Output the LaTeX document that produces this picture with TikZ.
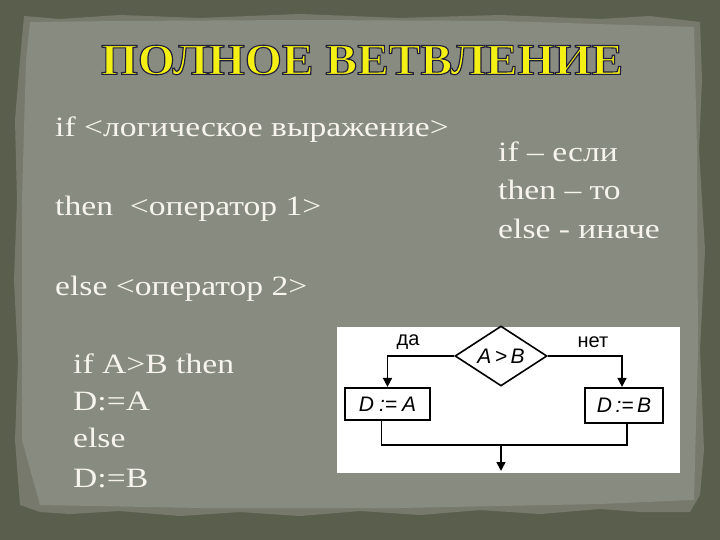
\documentclass[tikz,border=0pt]{standalone}
\usepackage{fontspec}
\usetikzlibrary{shapes.geometric,arrows.meta,calc}
\newfontfamily\bodyserif{Liberation Serif}
\newfontfamily\titleserif{Liberation Serif}
\newfontfamily\flowsans{Liberation Sans}
\definecolor{outerbg}{RGB}{90,95,77}
\definecolor{paper}{RGB}{136,139,127}
\definecolor{paperedge}{RGB}{118,121,108}
\definecolor{titleyellow}{RGB}{245,240,20}
\definecolor{textwhite}{RGB}{246,244,236}
\newcommand{\outlinedtitle}[1]{\color{titleyellow}\special{pdf:literal direct 0.12 0.12 0.24 RG 2 Tr 1.1 w}#1\special{pdf:literal direct 0 Tr}}
\tikzset{
  bodytxt/.style={font=\bodyserif\fontsize{28}{32}\selectfont, text=textwhite, anchor=base west, inner sep=0pt, xscale=1.2},
  titletxt/.style={font=\titleserif\bfseries\fontsize{44}{50}\selectfont, inner sep=0pt, xscale=1.08},
  flowtxt/.style={font=\flowsans\itshape\fontsize{21}{24}\selectfont},
  lbltxt/.style={font=\flowsans\fontsize{20}{22}\selectfont, inner sep=0pt},
  decision/.style={diamond, draw=black, line width=1.6pt, fill=white, inner sep=0pt, aspect=1.53, minimum width=92pt, minimum height=60pt, flowtxt},
  actbox/.style={rectangle, draw=black, line width=2.2pt, fill=white, inner sep=0pt, flowtxt},
  conn/.style={draw=black, line width=1.6pt},
  arrowconn/.style={conn, -{Triangle[length=9pt,width=9pt]}}
}
\begin{document}
\begin{tikzpicture}[x=1pt,y=-1pt]
\useasboundingbox (0,0) rectangle (720,540);
\fill[outerbg] (0,0) rectangle (720,540);
% torn paper
\path[fill=paperedge] (24,16) -- (60,19) -- (120,15) -- (200,18) -- (300,14) -- (400,18) -- (500,15) -- (600,19) -- (650,16) -- (700,22)
  -- (702,80) -- (699,150) -- (705,250) -- (700,350) -- (704,450) -- (700,495) -- (690,512)
  -- (640,512) -- (600,509) -- (540,514) -- (480,510) -- (420,515) -- (360,511) -- (300,516) -- (240,512) -- (180,516) -- (120,511) -- (70,514) -- (40,512) -- (20,505)
  -- (15,440) -- (18,360) -- (14,280) -- (17,200) -- (15,120) -- (20,60) -- cycle;
\path[fill=paper] (30,22) -- (120,21) -- (300,20) -- (500,21) -- (694,27)
  -- (697,150) -- (698,350) -- (694,500) -- (600,504) -- (400,508) -- (200,508) -- (40,505)
  -- (22,440) -- (22,200) -- (26,60) -- cycle;
% title
\node[titletxt] (title) at (362,60) {\outlinedtitle{ПОЛНОЕ ВЕТВЛЕНИЕ}};
% left text
\node[bodytxt] (l1) at (55,137) {if <логическое выражение>};
\node[bodytxt] (l2) at (55,215) {then \ <оператор 1>};
\node[bodytxt] (l3) at (55,295) {else <оператор 2>};
% right text
\node[bodytxt] (r1) at (498,162) {if – если};
\node[bodytxt] (r2) at (498,200) {then – то};
\node[bodytxt] (r3) at (498,238) {else - иначе};
% code
\node[bodytxt] (c1) at (73,373) {if A>B then};
\node[bodytxt] (c2) at (73,410) {D:=A};
\node[bodytxt] (c3) at (73,447) {else};
\node[bodytxt] (c4) at (73,487) {D:=B};
% flowchart
\fill[white] (337,327) rectangle (680,473);
\node[decision] (cond) at (501,356) {A\,>\,B};
\node[actbox, minimum width=85pt, minimum height=32pt] (da) at (387.5,404) {D\hspace{5pt}:=\hspace{5pt}A};
\node[actbox, minimum width=78pt, minimum height=35pt] (db) at (624,405.5) {D\,:=\,B};
\coordinate (join) at (501,445);
\coordinate (outend) at (501,471);
\draw[arrowconn] (cond.west) -| (da.north);
\draw[arrowconn] (cond.east) -| ([xshift=-2pt]db.north);
\draw[conn] ([xshift=-6pt]da.south) |- (join) -| ([xshift=3pt]db.south);
\draw[arrowconn] (join) -- (outend);
\node[lbltxt] (yes) at (408,342) {да};
\node[lbltxt] (no) at (593,342) {нет};
\end{tikzpicture}
\end{document}
